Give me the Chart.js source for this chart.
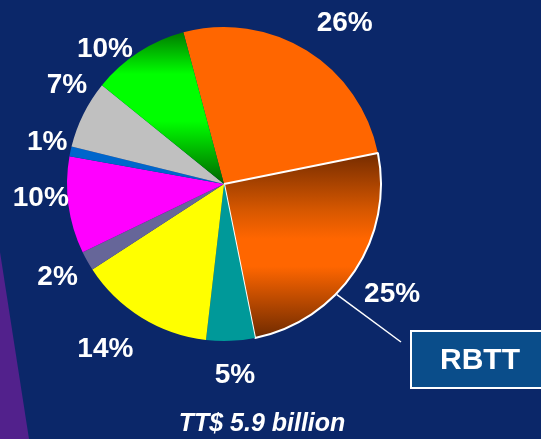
<!DOCTYPE html>
<html>
<head>
<meta charset="utf-8">
<script src="https://cdn.jsdelivr.net/npm/chart.js@4"></script>
<style>
  body { margin: 0; background: #0b2769; }
  #wrap { width: 541px; height: 439px; }
</style>
</head>
<body>
<div id="wrap"><canvas id="pie" width="541" height="439"></canvas></div>
<script>
// data, clockwise from the top
const categories = ['Other 1', 'RBTT', 'Other 2', 'Other 3', 'Other 4', 'Other 5', 'Other 6', 'Other 7', 'Other 8'];
const shares = [26, 25, 5, 14, 2, 10, 1, 7, 10];
const totalLabel = 'TT$ 5.9 billion';
const highlight = 'RBTT';

const flatColors = ['#ff6600', null, '#009999', '#ffff00', '#666699', '#ff00ff', '#0066cc', '#c0c0c0', null];
const R = 157;
// small hand nudges so the % labels sit where the slide had them
const nudge = [[20, 2], [9, 5], [3, 0], [-18, 3], [0, 0], [6, -12], [10, -2], [14, -14], [-15, 25]];

// slice fill, two slices use a vertical gradient
function sliceColor(c) {
  const i = c.dataIndex;
  if (flatColors[i]) return flatColors[i];
  const area = c.chart.chartArea;
  if (!area) return i === 1 ? '#ff6600' : '#00ff00';
  const cy = (area.top + area.bottom) / 2;
  const ctx = c.chart.ctx;
  let g;
  if (i === 1) {
    g = ctx.createLinearGradient(0, cy - 28, 0, cy + 156);
    g.addColorStop(0, '#7a2e00');
    g.addColorStop(0.3, '#d85800');
    g.addColorStop(0.45, '#ff6600');
    g.addColorStop(0.6, '#ff6600');
    g.addColorStop(1, '#6a2800');
  } else {
    g = ctx.createLinearGradient(0, cy - R, 0, cy);
    g.addColorStop(0, '#006a00');
    g.addColorStop(0.3, '#00ff00');
    g.addColorStop(0.6, '#00ff00');
    g.addColorStop(1, '#006400');
  }
  return g;
}

// background, purple streak, labels and callout
const deco = {
  id: 'deco',
  beforeDraw(chart) {
    const {ctx} = chart;
    ctx.save();
    ctx.fillStyle = '#0b2769';
    ctx.fillRect(0, 0, chart.width, chart.height);
    ctx.fillStyle = '#52218c';
    ctx.beginPath();
    ctx.moveTo(0, 252);
    ctx.lineTo(29, 439);
    ctx.lineTo(0, 439);
    ctx.closePath();
    ctx.fill();
    ctx.restore();
  },
  afterDatasetsDraw(chart) {
    const {ctx} = chart;
    const arcs = chart.getDatasetMeta(0).data;
    ctx.save();
    ctx.fillStyle = '#ffffff';
    ctx.font = 'bold 28px "Liberation Sans", Arial, sans-serif';
    ctx.textAlign = 'center';
    ctx.textBaseline = 'middle';
    arcs.forEach((a, i) => {
      const mid = (a.startAngle + a.endAngle) / 2;
      const r = a.outerRadius + 34;
      ctx.fillText(shares[i] + '%', a.x + Math.cos(mid) * r + nudge[i][0], a.y + Math.sin(mid) * r + nudge[i][1]);
    });

    // callout to the highlighted slice
    const h = arcs[categories.indexOf(highlight)];
    const ang = h.startAngle + (h.endAngle - h.startAngle) * 0.62;
    const sx = h.x + Math.cos(ang) * (h.outerRadius + 1);
    const sy = h.y + Math.sin(ang) * (h.outerRadius + 1);
    ctx.strokeStyle = '#ffffff';
    ctx.lineWidth = 1.5;
    ctx.beginPath();
    ctx.moveTo(sx, sy);
    ctx.lineTo(401, 342);
    ctx.stroke();
    ctx.fillStyle = '#0a4d8a';
    ctx.fillRect(411, 331, 140, 57);
    ctx.lineWidth = 2;
    ctx.strokeRect(411, 331, 140, 57);
    ctx.fillStyle = '#ffffff';
    ctx.font = 'bold 30px "Liberation Sans", Arial, sans-serif';
    ctx.fillText(highlight, 480, 361);

    ctx.font = 'italic bold 25px "Liberation Sans", Arial, sans-serif';
    ctx.fillText(totalLabel, 262, 424);
    ctx.restore();
  }
};

new Chart(document.getElementById('pie'), {
  type: 'pie',
  data: {
    labels: categories,
    datasets: [{
      data: shares,
      backgroundColor: sliceColor,
      borderColor: '#ffffff',
      borderWidth: categories.map(c => c === highlight ? 2 : 0),
      radius: R
    }]
  },
  options: {
    responsive: false,
    animation: false,
    rotation: -15,
    layout: { padding: { left: 0, right: 93, top: 0, bottom: 71 } },
    plugins: {
      legend: { display: false },
      tooltip: { enabled: false }
    }
  },
  plugins: [deco]
});
</script>
</body>
</html>
